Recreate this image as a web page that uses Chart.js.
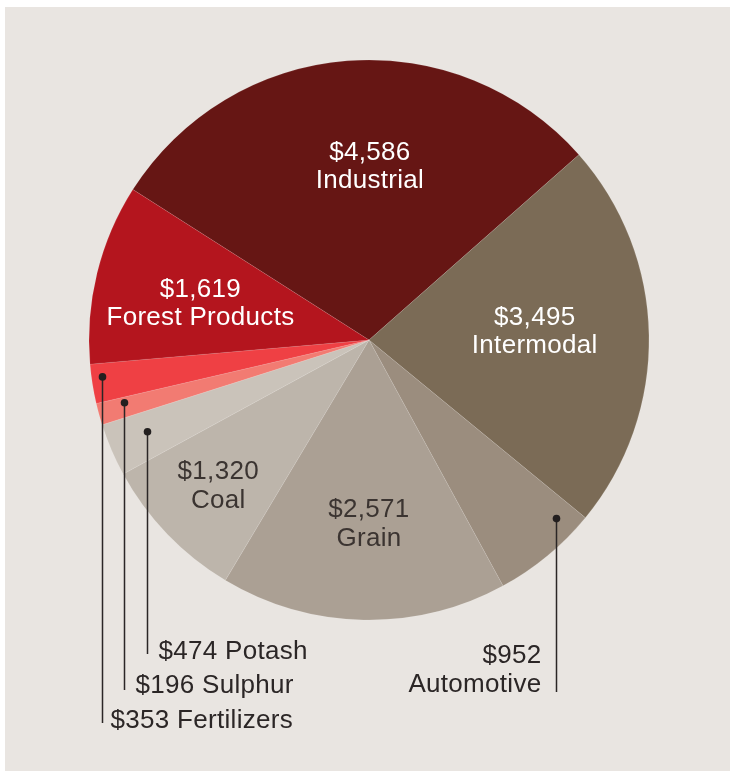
<!DOCTYPE html>
<html><head><meta charset="utf-8">
<script src="https://cdn.jsdelivr.net/npm/chart.js@4"></script>
<style>
html,body{margin:0;padding:0;background:#fff;}
#panel{position:absolute;left:5px;top:7px;width:725px;height:764px;background:#e9e5e1;}
#c{position:absolute;left:0;top:0;}
</style></head><body>
<div id="panel"></div>
<canvas id="c" width="730" height="771"></canvas>
<script>
const categories = ['Industrial','Intermodal','Automotive','Grain','Coal','Potash','Sulphur','Fertilizers','Forest Products'];
const revenue = [4586, 3495, 952, 2571, 1320, 474, 196, 353, 1619];
const valueLabels = ['$4,586','$3,495','$952','$2,571','$1,320','$474','$196','$353','$1,619'];
const sliceColors = ['#661614','#7b6b56','#9b8d7e','#aba094','#bdb5ab','#cac3ba','#f27b72','#ef4044','#b4151e'];

// label placement (fraction of slice angle, fraction of radius)
const insideLabels = {
  0: {f: 0.545, rf: 0.624, color: '#ffffff'},
  1: {f: 0.471, rf: 0.593, color: '#ffffff'},
  3: {f: 0.481, rf: 0.652, color: '#3b3431'},
  4: {f: 0.502, rf: 0.746, color: '#3b3431'},
  8: {f: 0.471, rf: 0.617, color: '#ffffff'}
};
const callouts = {
  2: {f: 0.196, rf: 0.923, endY: 692, dx: -15, align: 'right', lines: [[0, 663], [1, 692]]},
  5: {f: 0.557, rf: 0.857, endY: 654, dx: 11, align: 'left', lines: [[2, 659]]},
  6: {f: 0.72,  rf: 0.902, endY: 690, dx: 11, align: 'left', lines: [[2, 693]]},
  7: {f: 0.64,  rf: 0.961, endY: 723, dx: 8,  align: 'left', lines: [[2, 728]]}
};

function arcPoint(arc, f, rf) {
  const a = arc.startAngle + (arc.endAngle - arc.startAngle) * f;
  const r = arc.outerRadius * rf;
  return {x: arc.x + Math.cos(a) * r, y: arc.y + Math.sin(a) * r};
}

const labelPlugin = {
  id: 'sliceLabels',
  afterDatasetsDraw(chart) {
    const ctx = chart.ctx;
    const arcs = chart.getDatasetMeta(0).data;
    ctx.save();
    ctx.font = '26px "Liberation Sans", Arial, sans-serif';
    try { ctx.letterSpacing = '0.3px'; } catch (e) {}
    ctx.textBaseline = 'alphabetic';
    Object.keys(insideLabels).forEach(k => {
      const i = +k, cfg = insideLabels[k];
      const p = arcPoint(arcs[i], cfg.f, cfg.rf);
      ctx.fillStyle = cfg.color;
      ctx.textAlign = 'center';
      ctx.fillText(valueLabels[i], p.x, p.y - 5.5);
      ctx.fillText(categories[i], p.x, p.y + 23);
    });
    Object.keys(callouts).forEach(k => {
      const i = +k, cfg = callouts[k];
      const p = arcPoint(arcs[i], cfg.f, cfg.rf);
      const lx = Math.round(p.x) + 0.5;
      ctx.strokeStyle = '#2b2626';
      ctx.lineWidth = 1.5;
      ctx.beginPath();
      ctx.moveTo(lx, p.y);
      ctx.lineTo(lx, cfg.endY);
      ctx.stroke();
      ctx.fillStyle = '#231f1f';
      ctx.beginPath();
      ctx.arc(lx, p.y, 3.8, 0, Math.PI * 2);
      ctx.fill();
      ctx.fillStyle = '#2b2626';
      ctx.textAlign = cfg.align;
      cfg.lines.forEach(([kind, y]) => {
        const txt = kind === 0 ? valueLabels[i] : kind === 1 ? categories[i] : valueLabels[i] + ' ' + categories[i];
        ctx.fillText(txt, lx + cfg.dx, y);
      });
    });
    ctx.restore();
  }
};

new Chart(document.getElementById('c'), {
  type: 'pie',
  data: {
    labels: categories,
    datasets: [{
      data: revenue,
      backgroundColor: sliceColors,
      borderColor: 'rgba(255,255,255,0.1)',
      borderWidth: 1,
      hoverOffset: 0
    }]
  },
  options: {
    responsive: false,
    animation: false,
    rotation: -57.5,
    layout: {padding: {left: 88.5, right: 80.5, top: 59.5, bottom: 150.5}},
    plugins: {legend: {display: false}, tooltip: {enabled: false}}
  },
  plugins: [labelPlugin]
});
</script>
</body></html>
